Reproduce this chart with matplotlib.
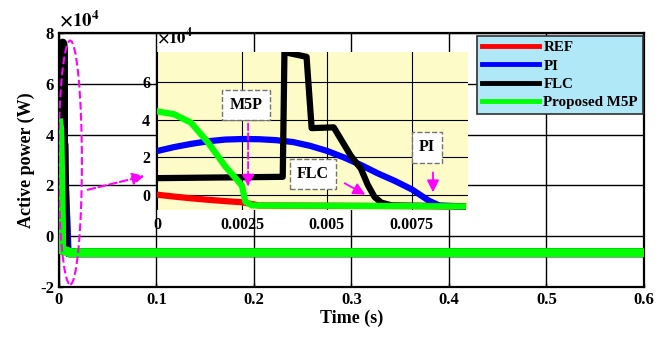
#!/usr/bin/env python
'''Active power: REF, PI, FLC and proposed M5P'''

from matplotlib.pyplot import figure, rcParams
from matplotlib.patches import Ellipse
import numpy as np

rcParams['font.family'] = ['Liberation Serif', 'DejaVu Serif']
rcParams['font.weight'] = 'bold'
rcParams['mathtext.fontset'] = 'stix'

# Power in units of 1e4 W, time in seconds (start-up transient)
t_ref = [0, 0.0005, 0.001, 0.0015, 0.002, 0.0025, 0.003, 0.009]
p_ref = [0.02, -0.08, -0.17, -0.25, -0.32, -0.38, -0.55, -0.6]

t_pi = [0, 0.0005, 0.001, 0.0015, 0.002, 0.0025, 0.003, 0.0035, 0.004, 0.0045,
        0.005, 0.0055, 0.006, 0.0065, 0.007, 0.0075, 0.008, 0.0083, 0.009]
p_pi = [2.34, 2.55, 2.72, 2.86, 2.95, 2.98, 2.97, 2.92, 2.82, 2.62,
        2.35, 2.0, 1.6, 1.15, 0.75, 0.3, -0.3, -0.55, -0.6]

t_flc = [0, 0.0037, 0.00375, 0.0044, 0.00455, 0.0052, 0.0057, 0.006, 0.0062,
         0.0064, 0.0066, 0.0069, 0.009]
p_flc = [0.9, 0.97, 7.6, 7.35, 3.56, 3.6, 2.1, 1.4, 0.55, -0.1, -0.4, -0.55, -0.6]

t_m5p = [0, 0.0005, 0.001, 0.0015, 0.002, 0.0025, 0.0026, 0.0028, 0.009]
p_m5p = [4.45, 4.3, 3.85, 2.8, 1.55, 0.5, -0.35, -0.55, -0.6]

# steady state on the long time axis
t_tail = [0.01, 0.6]
p_tail = [-0.65, -0.65]

labels = ['REF', 'PI', 'FLC', 'Proposed M5P']
colours = ['#ff0000', '#0000ff', '#000000', '#00ff00']
series = [(t_ref, p_ref), (t_pi, p_pi), (t_flc, p_flc), (t_m5p, p_m5p)]

fig = figure(figsize=(6.68, 3.4), dpi=100)
ax = fig.add_axes([0.0883, 0.156, 0.8757, 0.747])

for (t, p), c, lab in zip(series, colours, labels):
    ax.plot(list(t) + t_tail, list(p) + p_tail, color=c, lw=6.5, label=lab,
            solid_joinstyle='round', zorder=3)

ax.set_xlim(0, 0.6)
ax.set_ylim(-2, 8)
ax.set_xticks(np.arange(0, 0.61, 0.1))
ax.set_xticklabels(['0', '0.1', '0.2', '0.3', '0.4', '0.5', '0.6'])
ax.set_yticks(np.arange(-2, 8.1, 2))
ax.set_yticklabels(['-2', '0', '2', '4', '6', '8'])
ax.tick_params(direction='in', length=3, labelsize=12, width=1)
ax.grid(True, color='black', lw=1)
for s in ax.spines.values():
    s.set_linewidth(1.6)
ax.set_xlabel('Time (s)', fontsize=13, fontweight='bold', labelpad=1)
ax.set_ylabel('Active power (W)', fontsize=13, fontweight='bold', labelpad=4)
ax.text(0.0, 1.01, r'$\times10^4$', transform=ax.transAxes, fontsize=13.5, ha='left', va='bottom')

leg = ax.legend(loc='upper right', bbox_to_anchor=(0.9985, 0.99), fontsize=10.8, handlelength=3.8,
                frameon=True, fancybox=False, facecolor='#b0e8f8', edgecolor='#303030',
                borderpad=0.35, labelspacing=0.32, handletextpad=0.3, borderaxespad=0)
leg.get_frame().set_alpha(1)
leg.get_frame().set_linewidth(1.2)
for h in leg.get_lines():
    h.set_linewidth(3.5)
leg.set_zorder(10)

# zoom marker
ax.add_patch(Ellipse((0.0115, 2.9), 0.024, 9.6, fill=False, ec='magenta', ls='--', lw=1.5, zorder=5))
ax.annotate('', xy=(0.0905, 2.4), xytext=(0.0267, 1.8),
            arrowprops=dict(arrowstyle='-|>', color='magenta', lw=1.5, ls='--', mutation_scale=18),
            zorder=5)

# inset
ins = fig.add_axes([0.235, 0.382, 0.4656, 0.4647])
ins.set_facecolor('#fdfcc8')
for (t, p), c in zip(series, colours):
    ins.plot(t, p, color=c, lw=4.5, solid_joinstyle='round')
ins.set_xlim(0, 0.00915)
ins.set_ylim(-0.8, 7.6)
ins.set_xticks([0, 0.0025, 0.005, 0.0075])
ins.set_xticklabels(['0', '0.0025', '0.005', '0.0075'])
ins.set_yticks([0, 2, 4, 6])
ins.set_yticklabels(['0', '2', '4', '6'])
ins.tick_params(direction='in', length=0, labelsize=11.5, pad=5)
ins.grid(True, color='black', lw=0.8)
for s in ins.spines.values():
    s.set_visible(False)
ins.text(0.0, 1.03, r'$\times10^4$', transform=ins.transAxes, fontsize=12, ha='left', va='bottom')

box = dict(boxstyle='square,pad=0.45', fc='white', ec='0.45', ls='--', lw=1)
ins.text(0.00262, 4.8, 'M5P', fontsize=11.5, ha='center', va='center', bbox=box)
ins.text(0.00459, 1.12, 'FLC', fontsize=11.5, ha='center', va='center', bbox=box)
ins.text(0.00794, 2.53, 'PI', fontsize=11.5, ha='center', va='center', bbox=box)
dashed = dict(arrowstyle='-|>', color='magenta', lw=1.3, ls='--', mutation_scale=18)
solid = dict(arrowstyle='-|>', color='magenta', lw=1.3, mutation_scale=18)
ins.annotate('', xy=(0.00268, 0.3), xytext=(0.00268, 3.95), arrowprops=dashed)
ins.annotate('', xy=(0.0062, -0.05), xytext=(0.00545, 0.7), arrowprops=solid)
ins.annotate('', xy=(0.00812, 0.0), xytext=(0.00812, 1.35), arrowprops=solid)

fig.savefig('out.png', dpi=100)
